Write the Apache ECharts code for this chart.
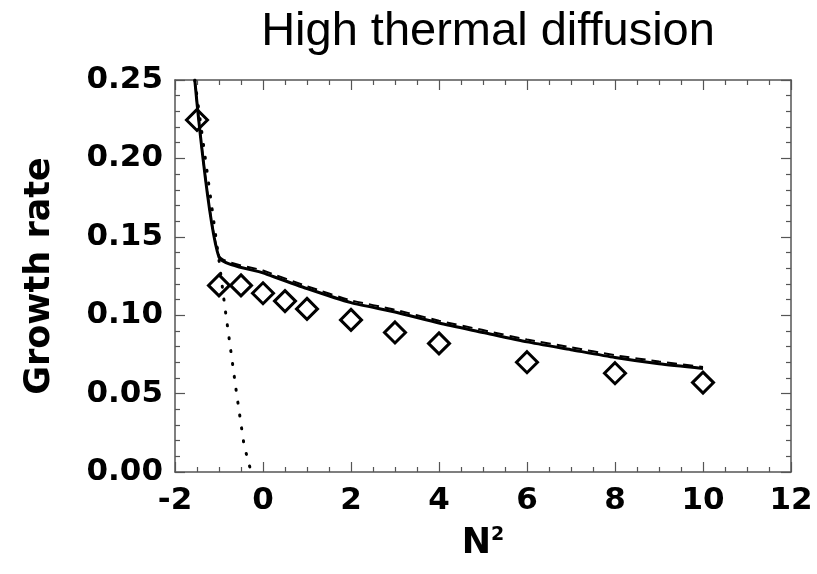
<!DOCTYPE html>
<html>
<head>
<meta charset="utf-8">
<script src="https://cdn.jsdelivr.net/npm/echarts@6/dist/echarts.min.js"></script>
<style>html,body{margin:0;padding:0;background:#fff}#c{width:817px;height:574px}</style>
</head>
<body>
<div id="c"></div>
<script>
const titleText = "High thermal diffusion";
const yName = "Growth rate";
const xTicks = [-2, 0, 2, 4, 6, 8, 10, 12];
const yTicks = [0.00, 0.05, 0.10, 0.15, 0.20, 0.25];

const expX = [-1.5, -1, -0.5, 0, 0.5, 1, 2, 3, 4, 6, 8, 10];
const expY = [0.2245, 0.119, 0.119, 0.114, 0.109, 0.104, 0.097, 0.089, 0.082, 0.070, 0.063, 0.057];

const solidX = [-1.55, -1.0, 0, 1, 2, 3, 4, 5, 6, 7, 8, 9, 10];
const solidY = [0.25, 0.137, 0.127, 0.117, 0.108, 0.102, 0.095, 0.089, 0.083, 0.078, 0.073, 0.069, 0.066];

const dashX = [-1.55, -1.0, 0, 1, 2, 3, 4, 5, 6, 7, 8, 9, 10];
const dashY = [0.25, 0.138, 0.1285, 0.1185, 0.1095, 0.1035, 0.0965, 0.0905, 0.0845, 0.0795, 0.0745, 0.0705, 0.067];

const dotX = [-1.55, -1.0, -0.87, -0.6, -0.43, -0.27];
const dotY = [0.25, 0.135, 0.106, 0.05, 0.017, 0.0];

const zip = (a, b) => a.map((v, i) => [v, b[i]]);

const chart = echarts.init(document.getElementById('c'), null, {renderer: 'canvas'});
const axisCol = '#555';
const labelFont = {fontFamily: 'DejaVu Sans', fontWeight: 'bold', fontSize: 31, color: '#000'};

const xBase = {
  type: 'value', min: xTicks[0], max: xTicks[xTicks.length - 1], interval: 2,
  axisLine: {show: true, onZero: false, lineStyle: {color: axisCol, width: 1.5}},
  axisTick: {show: true, inside: true, length: 10, lineStyle: {color: axisCol, width: 1.2}},
  minorTick: {show: true, splitNumber: 4, length: 5, lineStyle: {color: axisCol, width: 1.2}},
  splitLine: {show: false}
};
const yBase = {
  type: 'value', min: yTicks[0], max: yTicks[yTicks.length - 1], interval: 0.05,
  axisLine: {show: true, onZero: false, lineStyle: {color: axisCol, width: 1.5}},
  axisTick: {show: true, inside: true, length: 10, lineStyle: {color: axisCol, width: 1.2}},
  minorTick: {show: true, splitNumber: 5, length: 5, lineStyle: {color: axisCol, width: 1.2}},
  splitLine: {show: false}
};

chart.setOption({
  animation: false,
  backgroundColor: '#fff',
  title: {
    text: titleText, left: 483, top: 4, textAlign: 'center',
    textStyle: {fontFamily: 'Liberation Sans', fontWeight: 'normal', fontSize: 47, color: '#000'}
  },
  grid: {left: 175, right: 26, top: 80, bottom: 102},
  xAxis: [
    Object.assign({}, xBase, {
      position: 'bottom',
      axisLabel: Object.assign({margin: 13}, labelFont),
      name: '{n|N}{s|2}', nameLocation: 'middle', nameGap: 54,
      nameTextStyle: {rich: {
        n: {fontFamily: 'DejaVu Sans', fontWeight: 'bold', fontSize: 35, color: '#000'},
        s: {fontFamily: 'DejaVu Sans', fontWeight: 'bold', fontSize: 19, color: '#000', verticalAlign: 'top', padding: [0, 0, 16, 0]}
      }}
    }),
    Object.assign({}, xBase, {position: 'top', axisLabel: {show: false}})
  ],
  yAxis: [
    Object.assign({}, yBase, {
      position: 'left',
      axisLabel: Object.assign({margin: 12, formatter: v => v.toFixed(2)}, labelFont),
      name: yName, nameLocation: 'middle', nameGap: 118, nameRotate: 90,
      nameTextStyle: {fontFamily: 'DejaVu Sans', fontWeight: 'bold', fontSize: 35, color: '#000'}
    }),
    Object.assign({}, yBase, {position: 'right', axisLabel: {show: false}})
  ],
  series: [
    {type: 'line', data: zip(dotX, dotY), showSymbol: false, symbol: 'none', clip: true,
     lineStyle: {color: '#000', width: 3, type: [1, 12], cap: 'round'}, z: 2},
    {type: 'line', data: zip(solidX, solidY), showSymbol: false, symbol: 'none', smooth: 0.2, clip: true,
     lineStyle: {color: '#000', width: 3}, z: 3},
    {type: 'line', data: zip(dashX, dashY), showSymbol: false, symbol: 'none', smooth: 0.2, clip: true,
     lineStyle: {color: '#000', width: 2, type: [10, 6]}, z: 3},
    {type: 'scatter', data: zip(expX, expY), symbol: 'diamond', symbolSize: 21,
     itemStyle: {color: 'rgba(255,255,255,0)', borderColor: '#000', borderWidth: 3, opacity: 1}, z: 4}
  ]
});
</script>
</body>
</html>
